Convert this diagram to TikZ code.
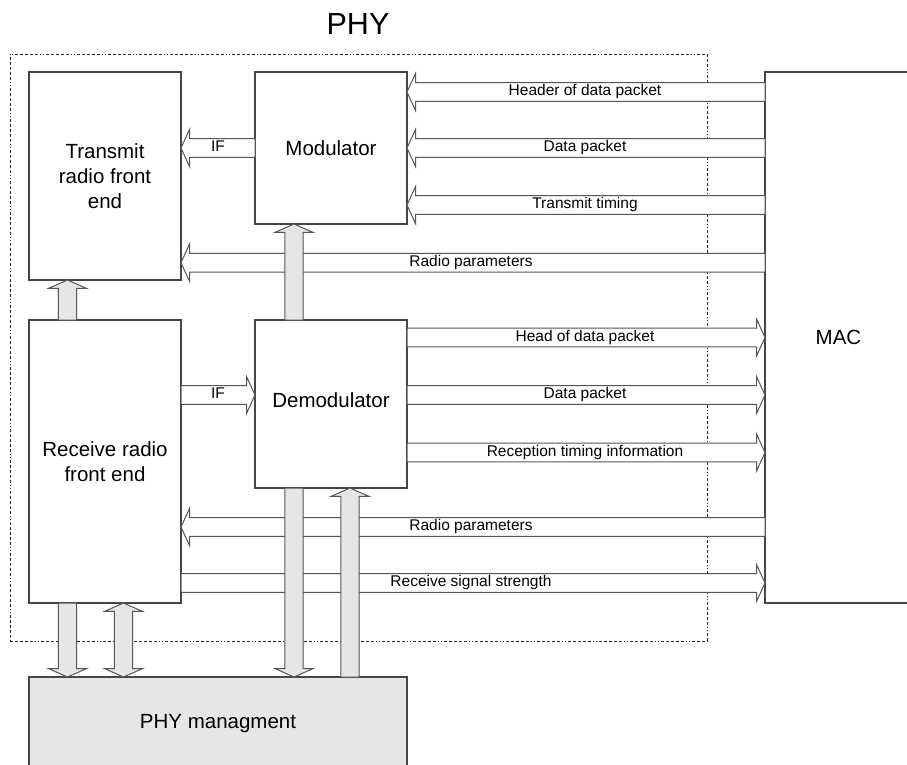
\documentclass[tikz,border=0pt]{standalone}
\usepackage{fontspec}
\setmainfont{Liberation Sans}
\usetikzlibrary{calc}
\definecolor{boxc}{RGB}{70,70,70}
\definecolor{arrc}{RGB}{85,85,85}
\definecolor{fillg}{RGB}{230,230,230}
\tikzset{
  box/.style={draw=boxc, line width=1.2pt, inner sep=0pt, outer sep=0pt, align=center,
    font=\fontsize{20.5}{25}\selectfont},
  lbl/.style={inner sep=0pt, font=\fontsize{15.5}{18}\selectfont, text height=11pt, text depth=3.3pt},
  frame/.style={draw=black!85, line width=0.9pt,
    dash pattern=on 3pt off 2pt on 3pt off 2pt on 3pt off 2pt on 3pt off 2pt on 3pt off 2pt on 1pt off 2pt on 1pt off 2pt},
  hbar/.style={draw=arrc, fill=white, line width=1pt, line join=miter,
    to path={let \p1=(\tikztostart), \p2=(\tikztotarget), \n1={ifthenelse(\x2>\x1,8.5,-8.5)} in
      (\x1,{\y1-9.3pt}) -- ({\x2-(\n1)*1pt},{\y1-9.3pt}) -- ({\x2-(\n1)*1pt},{\y1-18.5pt})
      -- (\x2,\y1) -- ({\x2-(\n1)*1pt},{\y1+18.5pt}) -- ({\x2-(\n1)*1pt},{\y1+9.3pt})
      -- (\x1,{\y1+9.3pt}) -- cycle}},
  vbar/.style={draw=arrc, fill=fillg, line width=1pt, line join=miter,
    to path={let \p1=(\tikztostart), \p2=(\tikztotarget), \n1={ifthenelse(\y2>\y1,8.3,-8.3)} in
      ({\x1-9.2pt},\y1) -- ({\x1-9.2pt},{\y2-(\n1)*1pt}) -- ({\x1-18.8pt},{\y2-(\n1)*1pt})
      -- (\x1,\y2) -- ({\x1+18.8pt},{\y2-(\n1)*1pt}) -- ({\x1+9.2pt},{\y2-(\n1)*1pt})
      -- ({\x1+9.2pt},\y1) -- cycle}},
  vbarb/.style={draw=arrc, fill=fillg, line width=1pt, line join=miter,
    to path={let \p1=(\tikztostart), \p2=(\tikztotarget), \n1={ifthenelse(\y2>\y1,8.3,-8.3)} in
      ({\x1-9.2pt},{\y1+(\n1)*1pt}) -- ({\x1-9.2pt},{\y2-(\n1)*1pt}) -- ({\x1-18.8pt},{\y2-(\n1)*1pt})
      -- (\x1,\y2) -- ({\x1+18.8pt},{\y2-(\n1)*1pt}) -- ({\x1+9.2pt},{\y2-(\n1)*1pt})
      -- ({\x1+9.2pt},{\y1+(\n1)*1pt}) -- ({\x1+18.8pt},{\y1+(\n1)*1pt}) -- (\x1,\y1)
      -- ({\x1-18.8pt},{\y1+(\n1)*1pt}) -- cycle}}
}
\begin{document}
\begin{tikzpicture}[x=1pt,y=-1pt]
\useasboundingbox (0,0) rectangle (907,765);
\clip (0,0) rectangle (907,765);
\fill[white] (0,0) rectangle (907,765);

\node[font=\fontsize{30.5}{36}\selectfont, anchor=base, inner sep=0pt] (phy) at (358,35) {PHY};
\node[frame, minimum width=697pt, minimum height=587pt, inner sep=0pt, outer sep=0pt] (frm) at (358.5,347.5) {};

\node[box, minimum width=152pt, minimum height=208pt] (tx) at (105,176) {Transmit\\radio front\\end};
\node[box, minimum width=152pt, minimum height=152pt] (mod) at (331,148) {Modulator};
\node[box, minimum width=152pt, minimum height=283pt] (rx) at (105,461.5) {Receive radio\\front end};
\node[box, minimum width=152pt, minimum height=168pt] (demod) at (331,404) {};
\node[font=\fontsize{20.5}{25}\selectfont, inner sep=0pt] (demodlbl) at (331,400) {Demodulator};
\node[box, minimum width=147pt, minimum height=531pt] (mac) at (838.5,337.5) {MAC};
\node[box, fill=fillg, minimum width=378pt, minimum height=93pt] (mgmt) at (218,723.5) {PHY managment};

% horizontal arrows
\draw[hbar] (mac.west |- 0,92) to (mod.east |- 0,92);
\draw[hbar] (mac.west |- 0,148) to (mod.east |- 0,148);
\draw[hbar] (mac.west |- 0,205) to (mod.east |- 0,205);
\draw[hbar] (mac.west |- 0,262.7) to (tx.east |- 0,262.7);
\draw[hbar] (mod.west |- 0,148) to (tx.east |- 0,148);
\draw[hbar] (rx.east |- 0,395) to (demod.west |- 0,395);
\draw[hbar] (demod.east |- 0,337.5) to (mac.west |- 0,337.5);
\draw[hbar] (demod.east |- 0,395) to (mac.west |- 0,395);
\draw[hbar] (demod.east |- 0,452.5) to (mac.west |- 0,452.5);
\draw[hbar] (mac.west |- 0,527) to (rx.east |- 0,527);
\draw[hbar] (rx.east |- 0,583) to (mac.west |- 0,583);

% vertical arrows
\draw[vbar] (rx.north -| 67.5,0) to (tx.south -| 67.5,0);
\draw[vbar] (demod.north -| 294,0) to (mod.south -| 294,0);
\draw[vbar] (rx.south -| 67.5,0) to (mgmt.north -| 67.5,0);
\draw[vbarb] (rx.south -| 123.5,0) to (mgmt.north -| 123.5,0);
\draw[vbar] (demod.south -| 294,0) to (mgmt.north -| 294,0);
\draw[vbar] (mgmt.north -| 350,0) to (demod.south -| 350,0);

% labels
\node[lbl] (l1) at (585,92) {Header of data packet};
\node[lbl] (l2) at (585,148) {Data packet};
\node[lbl] (l3) at (585,205) {Transmit timing};
\node[lbl] (l4) at (471,262.7) {Radio parameters};
\node[lbl] (l5) at (218,148) {IF};
\node[lbl] (l6) at (218,395) {IF};
\node[lbl] (l7) at (585,337.5) {Head of data packet};
\node[lbl] (l8) at (585,395) {Data packet};
\node[lbl] (l9) at (585,452.5) {Reception timing information};
\node[lbl] (l10) at (471,527) {Radio parameters};
\node[lbl] (l11) at (471,583) {Receive signal strength};
\end{tikzpicture}
\end{document}
